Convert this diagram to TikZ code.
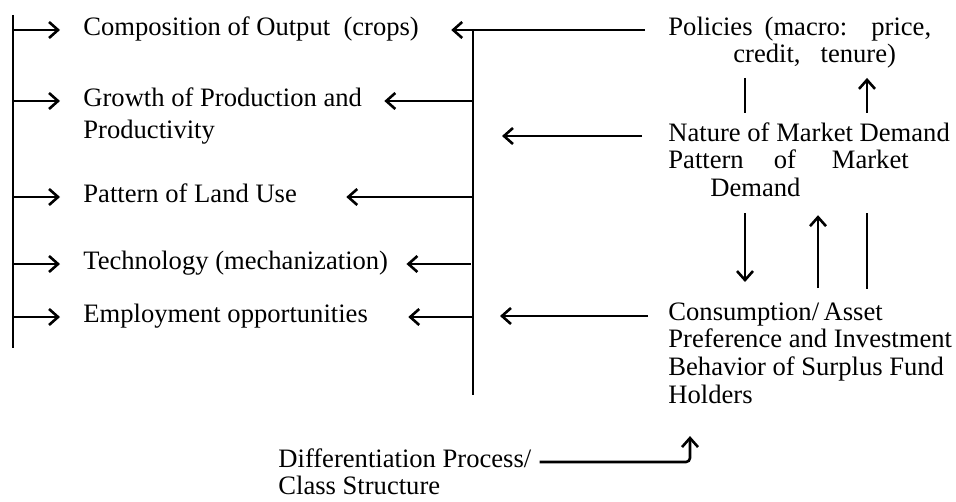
\documentclass[tikz,border=0pt]{standalone}
\usepackage{fontspec}
\setmainfont{Liberation Serif}
\usetikzlibrary{arrows.meta}

\tikzset{
  txt/.style={anchor=north west, inner sep=0pt, align=left,
    font=\fontsize{13.3}{13.8}\selectfont,
    execute at begin node=\strut, execute at end node=\strut},
  conn/.style={line width=1.3pt},
  arr/.style={conn, -{Straight Barb[length=4.5pt,width=8pt,line width=1.3pt]}},
  arrin/.style={conn, {Straight Barb[length=4.5pt,width=8pt,line width=1.3pt]}-},
}

\begin{document}
\begin{tikzpicture}[x=0.5pt, y=-0.5pt]
\useasboundingbox (0,0) rectangle (956,502);

% Effects (left column)
\node[txt] (comp) at (83,16.2)  {Composition of Output\ \ (crops)};
\node[txt] (grow) at (83,87.2)  {Growth of Production and\\[2.5pt]Productivity};
\node[txt] (land) at (83,183.2) {Pattern of Land Use};
\node[txt] (tech) at (83,250.2) {Technology (mechanization)};
\node[txt] (empl) at (83,303.2) {Employment opportunities};

% Causes (right column)
\node[txt] (pol)  at (668,16.2)  {Policies\hspace{6pt}(macro:\hspace{12pt}price,\\\hspace*{32.5pt}credit,\hspace{10pt}tenure)};
\node[txt] (mkt)  at (668,122.2) {Nature of Market Demand\\Pattern\hspace{15pt}of\hspace{18pt}Market\\\hspace*{21pt}Demand};
\node[txt] (cons) at (668,302.2) {Consumption/\,Asset\\Preference and Investment\\Behavior of Surplus Fund\\Holders};
\node[txt] (diff) at (278,448.2) {Differentiation Process/\\Class Structure};

% Bus lines
\coordinate (lt) at (13,15);
\coordinate (lb) at (13,348);
\coordinate (rt) at (473,30);
\coordinate (rb) at (473,395);
\draw[conn] (lt) -- (lb);
\draw[conn] (rt) -- (rb);

% Left bus into the effects
\foreach \n in {comp,grow,land,tech,empl}
  \draw[arr] ([xshift=-35pt,yshift=-6.9pt]\n.north west) -- +(23.5pt,0);

% Right bus into the effects
\draw[arr] ([xshift=-11.5pt,yshift=-6.9pt]pol.north west) -- ([xshift=16pt,yshift=-6.9pt]comp.north east);
\draw[arrin] ([xshift=11pt,yshift=-6.9pt]grow.north east) -- +(45pt,0);
\draw[arrin] ([xshift=24.5pt,yshift=-6.9pt]land.north east) -- +(64pt,0);
\draw[arrin] ([xshift=9pt,yshift=-6.9pt]tech.north east) -- +(32.5pt,0);
\draw[arrin] ([xshift=20pt,yshift=-6.9pt]empl.north east) -- +(33pt,0);

% Causes into the bus
\draw[arr] ([xshift=-13pt,yshift=-6.9pt]mkt.north west) -- +(-70pt,0);
\draw[arr] ([xshift=-10pt,yshift=-6.9pt]cons.north west) -- +(-74pt,0);

% Links between the causes
\draw[conn] ([xshift=38.5pt,yshift=-3.3pt]pol.south west) -- ([xshift=38.5pt,yshift=4.6pt]mkt.north west);
\draw[arr] ([xshift=99.5pt,yshift=4.6pt]mkt.north west) -- ([xshift=99.5pt,yshift=-3.3pt]pol.south west);
\draw[arr] ([xshift=38.5pt,yshift=-4pt]mkt.south west) -- ([xshift=38.5pt,yshift=10.1pt]cons.north west);
\draw[arr] ([xshift=75pt,yshift=7.1pt]cons.north west) -- ([xshift=75pt,yshift=-5pt]mkt.south west);
\draw[conn] ([xshift=99.5pt,yshift=-4pt]mkt.south west) -- ([xshift=99.5pt,yshift=6.6pt]cons.north west);
\draw[arr, rounded corners=2pt] ([xshift=4pt,yshift=-6.9pt]diff.north east) -| ([xshift=11pt,yshift=-12.2pt]cons.south west);

\end{tikzpicture}
\end{document}
